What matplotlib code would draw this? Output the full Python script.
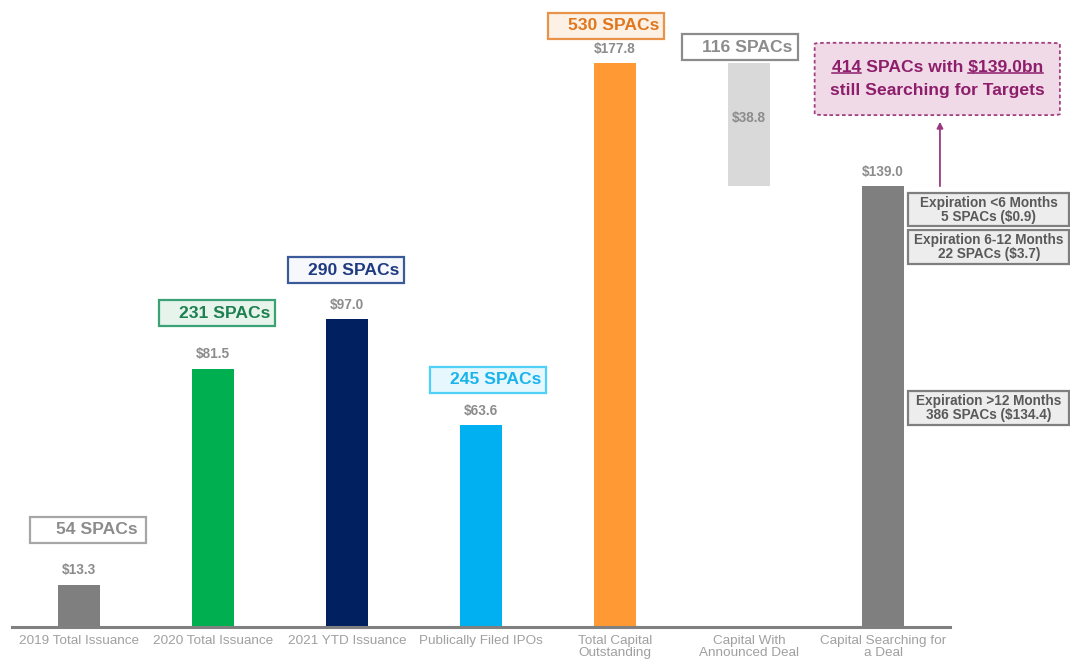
import matplotlib
matplotlib.use("Agg")
import matplotlib.pyplot as plt
from matplotlib.patches import FancyBboxPatch
from matplotlib.lines import Line2D

plt.rcParams['font.family'] = ['Liberation Sans', 'DejaVu Sans']

# ---------------- data ----------------
categories = ["2019 Total Issuance", "2020 Total Issuance", "2021 YTD Issuance",
              "Publically Filed IPOs", "Total Capital\nOutstanding",
              "Capital With\nAnnounced Deal", "Capital Searching for\na Deal"]
values = [13.3, 81.5, 97.0, 63.6, 177.8, 38.8, 139.0]
bottoms = [0, 0, 0, 0, 0, 139.0, 0]
value_labels = ["$13.3", "$81.5", "$97.0", "$63.6", "$177.8", "$38.8", "$139.0"]
spac_counts = [54, 231, 290, 245, 530, 116]
expiry_groups = ["Expiration <6 Months", "Expiration 6-12 Months", "Expiration >12 Months"]
expiry_spacs = [5, 22, 386]
expiry_capital = [0.9, 3.7, 134.4]
searching_spacs = 414
searching_capital = 139.0

# ---------------- styles ----------------
bar_colors = ['#7f7f7f', '#00b050', '#002060', '#00b0f0', '#ff9933', '#d9d9d9', '#7f7f7f']
spac_styles = [  # edge, face, text
    ('#a6a6a6', '#ffffff', '#8c8c8c'),
    ('#3aa274', '#e6f4ec', '#1e8050'),
    ('#3b5a9a', '#f6f8fc', '#1f3a80'),
    ('#4fd0f7', '#e6f8fe', '#19b4ec'),
    ('#e8924a', '#fdf0e4', '#e0771e'),
    ('#8c8c8c', '#ffffff', '#8c8c8c'),
]
spac_dx = [0.07, 0.03, -0.01, 0.05, -0.07, -0.07]
spac_dy = [17.3, 17.5, 15.5, 14.3, 11.8, 5.0]
label_gray = '#8c8c8c'

W, H = 1070, 664
fig = plt.figure(figsize=(W / 100, H / 100), dpi=100)
ax = fig.add_axes([12 / W, 37 / H, (950 - 12) / W, 627 / H])
ax.set_xlim(-0.5, 6.5)
ax.set_ylim(0, 197.7)

x = list(range(len(categories)))
bar_w = 0.32
ax.bar(x, values, bottom=bottoms, width=bar_w, color=bar_colors, zorder=2)

for s in ['top', 'right', 'left']:
    ax.spines[s].set_visible(False)
ax.spines['bottom'].set_color('#808080')
ax.spines['bottom'].set_linewidth(2.2)
ax.set_yticks([])
ax.set_xticks(x)
ax.set_xticklabels(categories, fontsize=9.7, color='#a0a0a0', linespacing=1.0)
ax.tick_params(axis='x', length=0, pad=5.5)

# value labels
for i, (v, b, lab) in enumerate(zip(values, bottoms, value_labels)):
    if b > 0:
        ax.text(i, b + v / 2 + 2, lab, ha='center', va='center', fontsize=9.8,
                fontweight='bold', color=label_gray, parse_math=False)
    else:
        ax.text(i, v + 4.6, lab, ha='center', va='center', fontsize=9.8,
                fontweight='bold', color=label_gray, parse_math=False)

# SPAC count boxes
box_w, box_h = 0.866, 8.2
for i, n in enumerate(spac_counts):
    top = values[i] + bottoms[i]
    cx = i + spac_dx[i]
    cy = top + spac_dy[i]
    ec, fc, tc = spac_styles[i]
    ax.add_patch(FancyBboxPatch((cx - box_w / 2, cy - box_h / 2), box_w, box_h,
                                boxstyle='square,pad=0', ec=ec, fc=fc, lw=1.6,
                                clip_on=False, zorder=3))
    ax.text(cx + 0.06, cy, f"{n} SPACs", ha='center', va='center', fontsize=12.6,
            fontweight='bold', color=tc, clip_on=False, zorder=4)

# expiration boxes
exp_cy = [131.6, 119.8, 69.05]
exp_x0, exp_w, exp_h = 6.19, 1.2, 10.6
for g, n, c, cy in zip(expiry_groups, expiry_spacs, expiry_capital, exp_cy):
    ax.add_patch(FancyBboxPatch((exp_x0, cy - exp_h / 2), exp_w, exp_h,
                                boxstyle='square,pad=0', ec='#7f7f7f', fc='#ededed',
                                lw=1.6, clip_on=False, zorder=3))
    ax.text(exp_x0 + exp_w / 2, cy, f"{g}\n{n} SPACs (${c})", ha='center', va='center',
            fontsize=9.8, fontweight='bold', color='#595959', linespacing=1.0,
            clip_on=False, zorder=4, parse_math=False)

# callout box
cb_x0, cb_x1, cb_y0, cb_y1 = 5.49, 7.32, 161.4, 184.2
ax.add_patch(FancyBboxPatch((cb_x0, cb_y0), cb_x1 - cb_x0, cb_y1 - cb_y0,
                            boxstyle='round,pad=0,rounding_size=0.11',
                            mutation_aspect=3.0,
                            ec='#a0407f', fc='#f0dae7', lw=1.3, ls=(0, (2, 1.5)),
                            clip_on=False, zorder=3))
callout_color = '#8e1e6b'
line1 = f"{searching_spacs} SPACs with ${searching_capital:.1f}bn"
line2 = "still Searching for Targets"
ccx = (cb_x0 + cb_x1) / 2
cfs = 12.6
t1 = ax.text(ccx, 176.3, line1, ha='center', va='center', fontsize=cfs,
             fontweight='bold', color=callout_color, clip_on=False, zorder=4,
             parse_math=False)
ax.text(ccx, 169.2, line2, ha='center', va='center', fontsize=cfs,
        fontweight='bold', color=callout_color, clip_on=False, zorder=4)

# arrow from bar to callout
ax.annotate('', xy=(6.425, 159.3), xytext=(6.425, 139.0),
            arrowprops=dict(arrowstyle='-|>', color='#9b3880', lw=1.3,
                            mutation_scale=9, shrinkA=0, shrinkB=0),
            annotation_clip=False, zorder=4)

# underline parts of the first callout line
fig.canvas.draw()
r = fig.canvas.get_renderer()
ext = t1.get_window_extent(r)


def width_of(s):
    t = ax.text(0, 0, s, fontsize=cfs, fontweight='bold', parse_math=False)
    w = t.get_window_extent(r).width
    t.remove()
    return w


w_a = width_of(f"{searching_spacs}")
w_b = width_of(f"${searching_capital:.1f}bn")
inv = ax.transData.inverted()
uy = ext.y0 + 2.0
for xa, xb in [(ext.x0, ext.x0 + w_a), (ext.x1 - w_b, ext.x1)]:
    (dx0, dy), (dx1, _) = inv.transform([(xa, uy), (xb, uy)])
    ax.add_line(Line2D([dx0, dx1], [dy, dy], color=callout_color, lw=1.1,
                       clip_on=False, zorder=4))

fig.savefig('out.png', dpi=100)
